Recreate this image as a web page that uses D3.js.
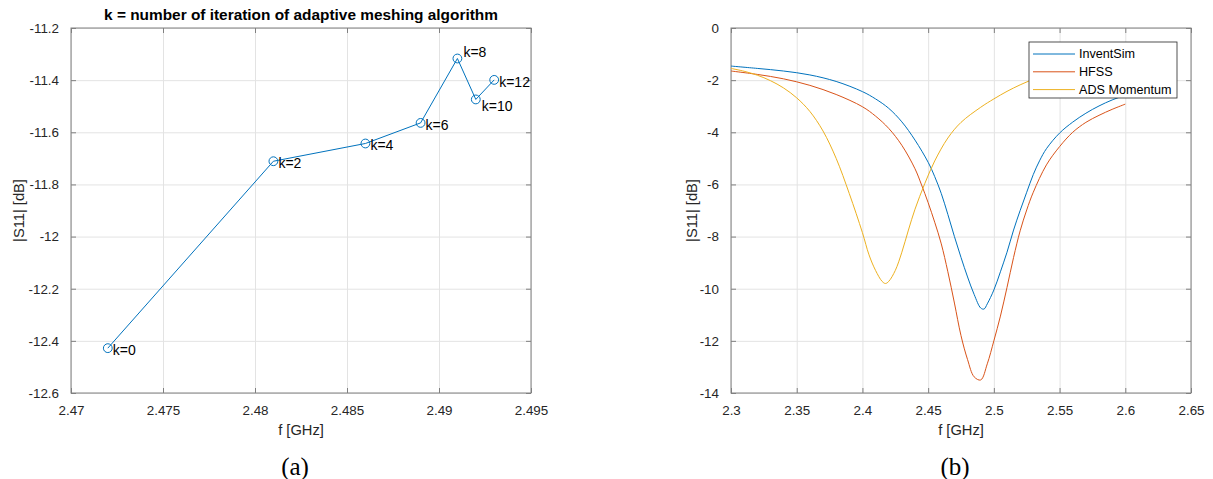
<!DOCTYPE html>
<html>
<head>
<meta charset="utf-8">
<script src="https://cdn.jsdelivr.net/npm/d3@7"></script>
<style>
  body { margin: 0; background: #fff; }
  svg text { font-family: "Liberation Sans", Arial, Helvetica, sans-serif; }
  .grid line { stroke: #e3e3e3; stroke-width: 1; }
  .grid path { display: none; }
  .ax path { display: none; }
  .ax line { stroke: #808080; }
  .ax text { fill: #262626; font-size: 13.4px; }
</style>
</head>
<body>
<script>
// ---- panel (a): convergence of adaptive meshing ----
var meshFreq = [2.472, 2.481, 2.486, 2.489, 2.491, 2.492, 2.493];
var meshS11 = [-12.428, -11.711, -11.643, -11.564, -11.317, -11.474, -11.399];
var meshLabels = ["k=0", "k=2", "k=4", "k=6", "k=8", "k=10", "k=12"];
var xTicksA = [2.47, 2.475, 2.48, 2.485, 2.49, 2.495];
var yTicksA = [-12.6, -12.4, -12.2, -12, -11.8, -11.6, -11.4, -11.2];

// ---- panel (b): |S11| vs frequency ----
var inventFreq = [2.30, 2.32, 2.34, 2.36, 2.38, 2.40, 2.41, 2.42, 2.43, 2.44, 2.45, 2.455, 2.46, 2.465, 2.47, 2.475, 2.48, 2.485, 2.49, 2.4925, 2.495, 2.50, 2.505, 2.51, 2.515, 2.52, 2.525, 2.53, 2.535, 2.54, 2.55, 2.56, 2.57, 2.58, 2.59, 2.60];
var inventS11 = [-1.46, -1.55, -1.65, -1.80, -2.05, -2.44, -2.72, -3.08, -3.60, -4.30, -5.15, -5.70, -6.35, -7.15, -8.00, -8.80, -9.55, -10.22, -10.74, -10.78, -10.58, -10.05, -9.35, -8.60, -7.75, -7.00, -6.30, -5.62, -5.07, -4.63, -4.03, -3.61, -3.27, -2.99, -2.76, -2.58];
var hfssFreq = [2.30, 2.32, 2.34, 2.36, 2.38, 2.40, 2.41, 2.42, 2.43, 2.44, 2.445, 2.45, 2.455, 2.46, 2.465, 2.47, 2.475, 2.48, 2.485, 2.49, 2.495, 2.50, 2.505, 2.51, 2.515, 2.52, 2.525, 2.53, 2.54, 2.55, 2.56, 2.57, 2.58, 2.59, 2.60];
var hfssS11 = [-1.65, -1.78, -1.95, -2.20, -2.55, -3.02, -3.38, -3.85, -4.50, -5.40, -6.02, -6.70, -7.45, -8.28, -9.35, -10.55, -11.80, -12.72, -13.38, -13.50, -12.88, -12.00, -11.05, -9.95, -8.80, -7.78, -6.98, -6.30, -5.25, -4.55, -4.00, -3.62, -3.35, -3.12, -2.92];
var adsFreq = [2.30, 2.31, 2.32, 2.33, 2.34, 2.35, 2.36, 2.37, 2.38, 2.39, 2.40, 2.405, 2.41, 2.415, 2.4175, 2.42, 2.425, 2.43, 2.435, 2.44, 2.4475, 2.455, 2.465, 2.475, 2.49, 2.50, 2.51, 2.52, 2.53, 2.54, 2.56, 2.58, 2.60];
var adsS11 = [-1.55, -1.66, -1.81, -2.02, -2.30, -2.68, -3.20, -3.95, -5.00, -6.35, -7.85, -8.70, -9.30, -9.72, -9.80, -9.72, -9.30, -8.60, -7.75, -6.95, -5.96, -5.10, -4.22, -3.62, -3.04, -2.72, -2.43, -2.18, -1.96, -1.77, -1.47, -1.25, -1.10];
var seriesNames = ["InventSim", "HFSS", "ADS Momentum"];
var xTicksB = [2.3, 2.35, 2.4, 2.45, 2.5, 2.55, 2.6, 2.65];
var yTicksB = [-14, -12, -10, -8, -6, -4, -2, 0];

var colors = ["#0072BD", "#D95319", "#EDB120"];

var W = 1213, H = 479;
var plotTop = 28, plotH = 365, plotW = 460;

var svg = d3.select("body").append("svg")
    .attr("width", W)
    .attr("height", H);

function makePanel(left, xDomain, yDomain, xTicks, yTicks) {
    var g = svg.append("g").attr("transform", "translate(" + left + "," + plotTop + ")");
    var x = d3.scaleLinear().domain(xDomain).range([0, plotW]);
    var y = d3.scaleLinear().domain(yDomain).range([plotH, 0]);

    // grid lines
    g.append("g").attr("class", "grid")
        .attr("transform", "translate(0," + plotH + ")")
        .call(d3.axisBottom(x).tickValues(xTicks).tickSize(-plotH).tickFormat(""));
    g.append("g").attr("class", "grid")
        .call(d3.axisLeft(y).tickValues(yTicks).tickSize(-plotW).tickFormat(""));

    // box
    g.append("rect")
        .attr("width", plotW).attr("height", plotH)
        .attr("fill", "none").attr("stroke", "#808080").attr("stroke-width", 1);

    // ticks, pointing inwards on all four sides
    var fmt = function (d) { return String(+d.toFixed(3)); };
    g.append("g").attr("class", "ax")
        .attr("transform", "translate(0," + plotH + ")")
        .call(d3.axisBottom(x).tickValues(xTicks).tickSizeInner(-5).tickPadding(12).tickFormat(fmt));
    g.append("g").attr("class", "ax")
        .call(d3.axisTop(x).tickValues(xTicks).tickSizeInner(-5).tickFormat(""));
    g.append("g").attr("class", "ax")
        .call(d3.axisLeft(y).tickValues(yTicks).tickSizeInner(-5).tickPadding(12).tickFormat(fmt));
    g.append("g").attr("class", "ax")
        .attr("transform", "translate(" + plotW + ",0)")
        .call(d3.axisRight(y).tickValues(yTicks).tickSizeInner(-5).tickFormat(""));

    return { g: g, x: x, y: y };
}

function axisLabels(p, yLabelX, caption) {
    p.g.append("text")
        .attr("x", plotW / 2).attr("y", plotH + 42)
        .attr("text-anchor", "middle")
        .attr("font-size", "14.7px").attr("fill", "#262626")
        .text("f [GHz]");
    p.g.append("text")
        .attr("transform", "translate(" + yLabelX + "," + (plotH / 2) + ") rotate(-90)")
        .attr("text-anchor", "middle")
        .attr("dy", "0.35em")
        .attr("font-size", "14.7px").attr("fill", "#262626")
        .text("|S11| [dB]");
    p.g.append("text")
        .attr("x", plotW / 2 - 6).attr("y", plotH + 82)
        .attr("text-anchor", "middle")
        .style("font-family", "'Liberation Serif', 'DejaVu Serif', serif")
        .attr("font-size", "25px").attr("fill", "#000")
        .text(caption);
}

// ---------- panel (a) ----------
var pa = makePanel(71, [2.47, 2.495], [-12.6, -11.2], xTicksA, yTicksA);
var meshData = meshFreq.map(function (f, i) { return { f: f, s: meshS11[i], k: meshLabels[i] }; });

pa.g.append("path")
    .datum(meshData)
    .attr("fill", "none")
    .attr("stroke", colors[0])
    .attr("stroke-width", 1)
    .attr("d", d3.line().x(function (d) { return pa.x(d.f); }).y(function (d) { return pa.y(d.s); }));

pa.g.selectAll("circle.mk")
    .data(meshData).enter().append("circle")
    .attr("class", "mk")
    .attr("cx", function (d) { return pa.x(d.f); })
    .attr("cy", function (d) { return pa.y(d.s); })
    .attr("r", 4.4)
    .attr("fill", "none")
    .attr("stroke", colors[0])
    .attr("stroke-width", 1);

// label nudges (px) so text sits like the original
var labelNudge = { "k=8": [6, -6], "k=10": [6, 7] };
pa.g.selectAll("text.kl")
    .data(meshData).enter().append("text")
    .attr("class", "kl")
    .attr("x", function (d) { return pa.x(d.f) + (labelNudge[d.k] ? labelNudge[d.k][0] : 5); })
    .attr("y", function (d) { return pa.y(d.s) + (labelNudge[d.k] ? labelNudge[d.k][1] : 2); })
    .attr("dy", "0.35em")
    .attr("font-size", "14px")
    .attr("fill", "#000")
    .text(function (d) { return d.k; });

pa.g.append("text")
    .attr("x", plotW / 2).attr("y", -8)
    .attr("text-anchor", "middle")
    .attr("font-size", "15.4px")
    .attr("font-weight", "bold")
    .attr("fill", "#000")
    .text("k = number of iteration of adaptive meshing algorithm");

axisLabels(pa, -52, "(a)");

// ---------- panel (b) ----------
var pb = makePanel(731, [2.3, 2.65], [-14, 0], xTicksB, yTicksB);
var curves = [
    { name: seriesNames[0], f: inventFreq, s: inventS11 },
    { name: seriesNames[1], f: hfssFreq, s: hfssS11 },
    { name: seriesNames[2], f: adsFreq, s: adsS11 }
];
var lineB = d3.line()
    .curve(d3.curveCatmullRom.alpha(0.5))
    .x(function (d) { return pb.x(d[0]); })
    .y(function (d) { return pb.y(d[1]); });

curves.forEach(function (c, i) {
    pb.g.append("path")
        .datum(d3.zip(c.f, c.s))
        .attr("fill", "none")
        .attr("stroke", colors[i])
        .attr("stroke-width", 1)
        .attr("d", lineB);
});

// legend
var leg = pb.g.append("g").attr("transform", "translate(298,14)");
leg.append("rect")
    .attr("width", 148).attr("height", 56)
    .attr("fill", "#fff").attr("stroke", "#262626").attr("stroke-width", 0.8);
curves.forEach(function (c, i) {
    var yy = 12 + i * 17.8;
    leg.append("line")
        .attr("x1", 4).attr("x2", 46).attr("y1", yy).attr("y2", yy)
        .attr("stroke", colors[i]).attr("stroke-width", 1);
    leg.append("text")
        .attr("x", 50).attr("y", yy).attr("dy", "0.35em")
        .attr("font-size", "12.6px").attr("fill", "#000")
        .text(c.name);
});

axisLabels(pb, -39, "(b)");
</script>
</body>
</html>
